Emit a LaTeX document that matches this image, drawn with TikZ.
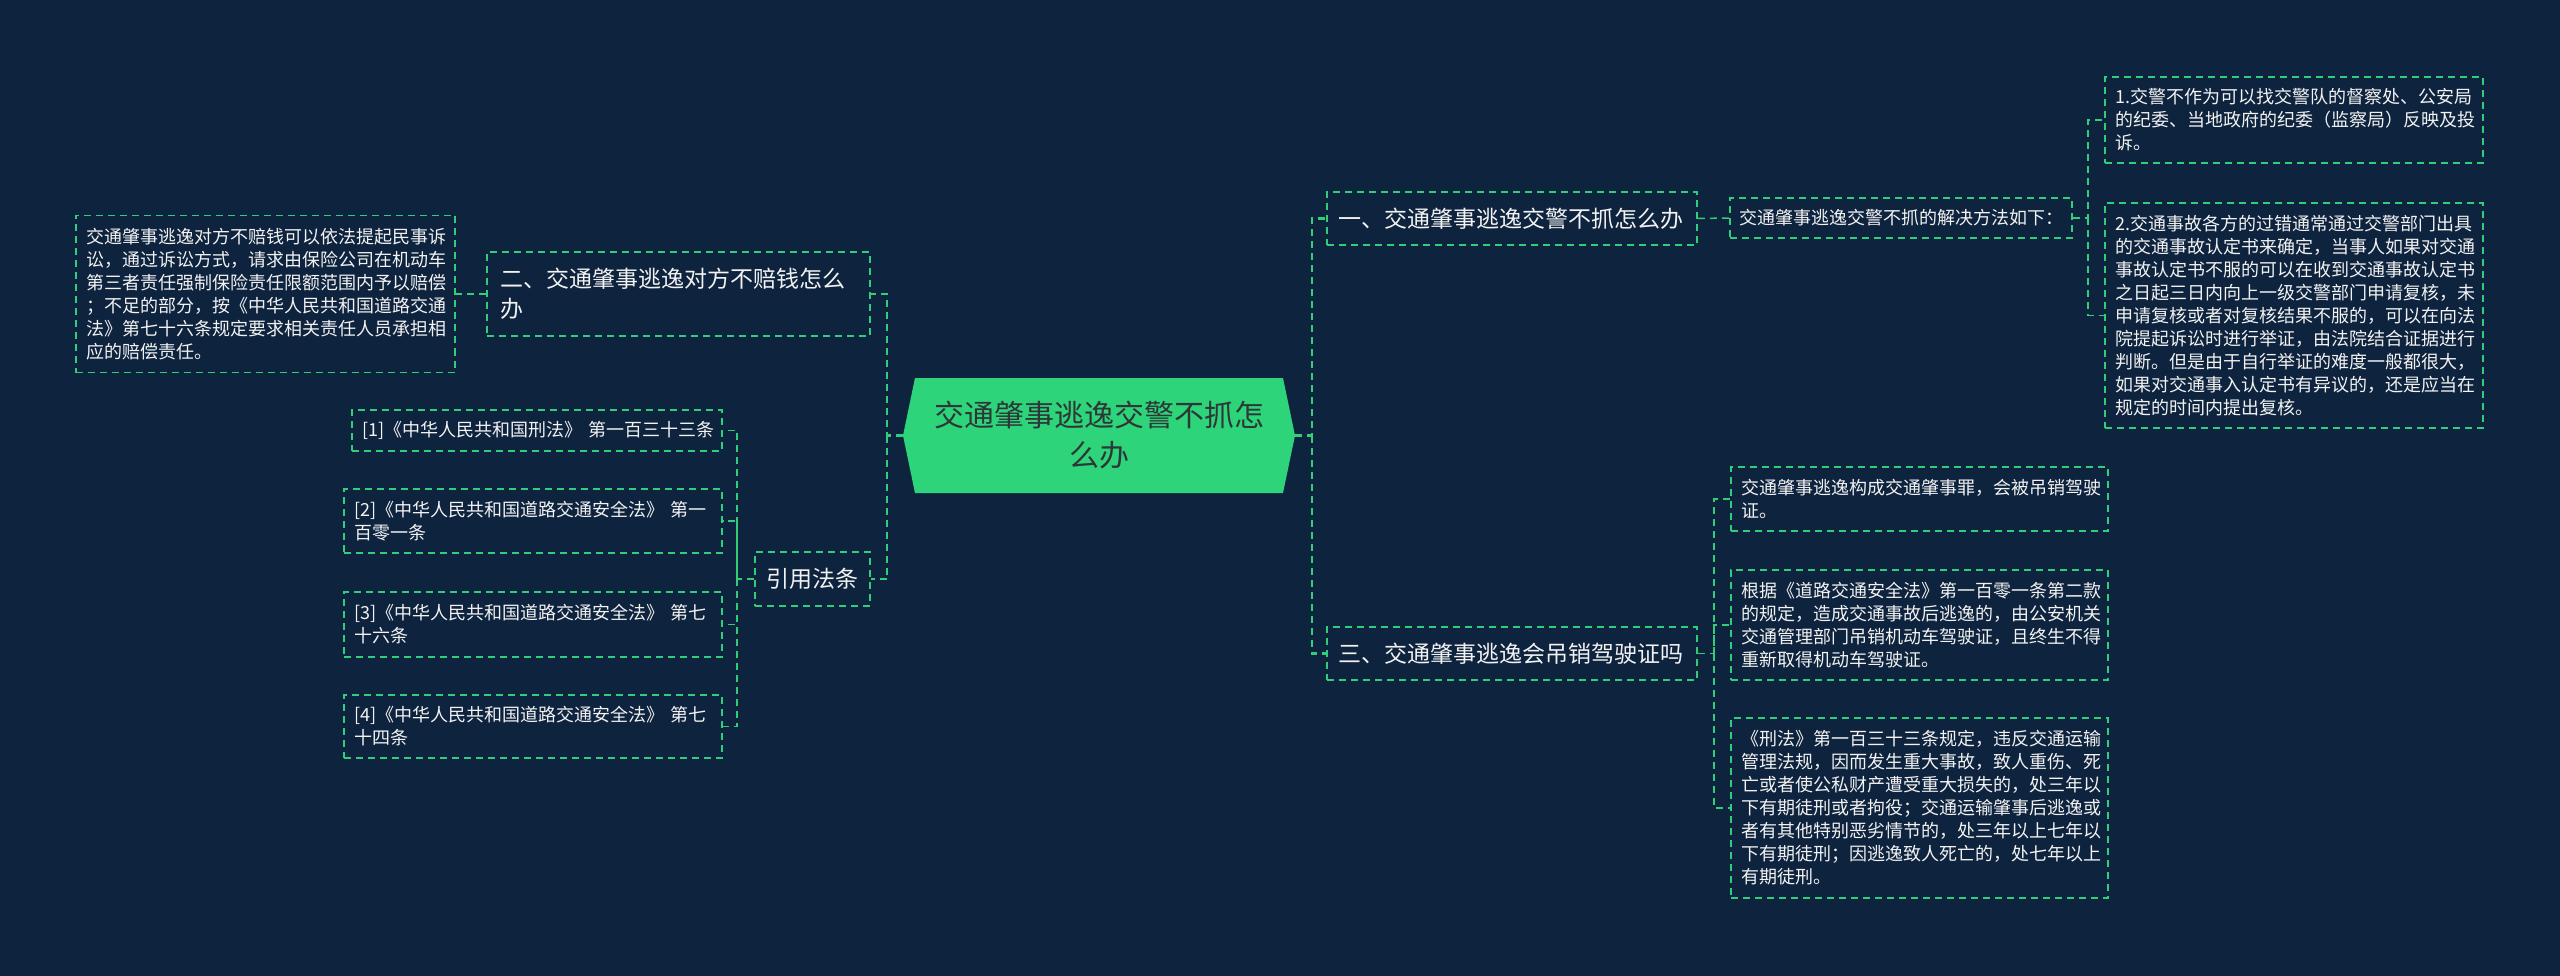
\documentclass[tikz,border=0pt]{standalone}
\usepackage{fontspec}
\setmainfont{Noto Sans CJK SC}
\usetikzlibrary{calc}
\definecolor{bg}{RGB}{14,35,62}
\definecolor{ln}{RGB}{50,205,120}
\definecolor{rootfill}{RGB}{46,212,122}
\definecolor{txt}{RGB}{242,242,242}
\definecolor{roottxt}{RGB}{45,55,55}
\begin{document}
\begin{tikzpicture}[x=1pt,y=-1pt,
  box/.style={draw=ln, line width=1.5pt, dash pattern=on 7pt off 5pt, text=txt, inner sep=0pt, align=left},
  leaf/.style={box, font=\fontsize{18pt}{23pt}\selectfont},
  lvl/.style={box, font=\fontsize{23pt}{30pt}\selectfont},
  link/.style={draw=ln, line width=1.5pt, dash pattern=on 7pt off 5pt},
  trunk/.style={draw=ln, line width=2.5pt, dash pattern=on 7pt off 5pt},
]
\useasboundingbox (0,0) rectangle (2560,976);
\fill[bg] (0,0) rectangle (2560,976);

% bus coordinates
\coordinate (busL) at (887,0);
\coordinate (busR) at (1312,0);
\coordinate (busL2) at (737,0);
\coordinate (busR1a) at (2088,0);
\coordinate (busR2) at (1714,0);

% root
\coordinate (rootc) at (1099,435.5);
\fill[rootfill] ($(rootc)+(-196,0)$) -- ($(rootc)+(-184,-57.5)$) -- ($(rootc)+(184,-57.5)$) -- ($(rootc)+(196,0)$) -- ($(rootc)+(184,57.5)$) -- ($(rootc)+(-184,57.5)$) -- cycle;
\node[minimum width=392pt, minimum height=115pt, inner sep=0pt, align=center, text=roottxt, font=\fontsize{30pt}{40pt}\selectfont] (root) at (rootc) {交通肇事逃逸交警不抓怎\\么办};

% left side
\node[lvl, minimum width=383pt, minimum height=84pt, text width=357pt] (L1) at (678.5,294) {二、交通肇事逃逸对方不赔钱怎么\\办};
\node[leaf, minimum width=379pt, minimum height=157pt, text width=359pt] (L1a) at (265.5,294) {交通肇事逃逸对方不赔钱可以依法提起民事诉\\讼，通过诉讼方式，请求由保险公司在机动车\\第三者责任强制保险责任限额范围内予以赔偿\\；不足的部分，按《中华人民共和国道路交通\\法》第七十六条规定要求相关责任人员承担相\\应的赔偿责任。};
\node[lvl, minimum width=115pt, minimum height=54pt, align=center] (L2) at (812.5,579) {引用法条};
\node[leaf, minimum width=370pt, minimum height=41pt, text width=350pt] (C1) at (537,430.5) {\mbox{[1]《中华人民共和国刑法》 第一百三十三条}};
\node[leaf, minimum width=378pt, minimum height=64pt, text width=358pt] (C2) at (533,521) {[2]《中华人民共和国道路交通安全法》 第一\\百零一条};
\node[leaf, minimum width=378pt, minimum height=65pt, text width=358pt] (C3) at (533,624.5) {[3]《中华人民共和国道路交通安全法》 第七\\十六条};
\node[leaf, minimum width=378pt, minimum height=63pt, text width=358pt] (C4) at (533,726.5) {[4]《中华人民共和国道路交通安全法》 第七\\十四条};

% right side
\node[lvl, minimum width=370pt, minimum height=53pt, text width=348pt] (R1) at (1512,218.5) {一、交通肇事逃逸交警不抓怎么办};
\node[leaf, minimum width=342pt, minimum height=40pt, text width=324pt] (R1a) at (1901,218) {交通肇事逃逸交警不抓的解决方法如下：};
\node[leaf, minimum width=378pt, minimum height=86pt, text width=358pt] (R1a1) at (2294,120) {1.交警不作为可以找交警队的督察处、公安局\\的纪委、当地政府的纪委（监察局）反映及投\\诉。};
\node[leaf, minimum width=378pt, minimum height=225pt, text width=358pt] (R1a2) at (2294,315.5) {2.交通事故各方的过错通常通过交警部门出具\\的交通事故认定书来确定，当事人如果对交通\\事故认定书不服的可以在收到交通事故认定书\\之日起三日内向上一级交警部门申请复核，未\\申请复核或者对复核结果不服的，可以在向法\\院提起诉讼时进行举证，由法院结合证据进行\\判断。但是由于自行举证的难度一般都很大，\\如果对交通事入认定书有异议的，还是应当在\\规定的时间内提出复核。};
\node[lvl, minimum width=370pt, minimum height=53pt, text width=348pt] (R2) at (1512,653.5) {三、交通肇事逃逸会吊销驾驶证吗};
\node[leaf, minimum width=377pt, minimum height=64pt, text width=357pt] (R2a) at (1919.5,499) {交通肇事逃逸构成交通肇事罪，会被吊销驾驶\\证。};
\node[leaf, minimum width=377pt, minimum height=110pt, text width=357pt] (R2b) at (1919.5,625) {根据《道路交通安全法》第一百零一条第二款\\的规定，造成交通事故后逃逸的，由公安机关\\交通管理部门吊销机动车驾驶证，且终生不得\\重新取得机动车驾驶证。};
\node[leaf, minimum width=377pt, minimum height=180pt, text width=357pt] (R2c) at (1919.5,808) {《刑法》第一百三十三条规定，违反交通运输\\管理法规，因而发生重大事故，致人重伤、死\\亡或者使公私财产遭受重大损失的，处三年以\\下有期徒刑或者拘役；交通运输肇事后逃逸或\\者有其他特别恶劣情节的，处三年以上七年以\\下有期徒刑；因逃逸致人死亡的，处七年以上\\有期徒刑。};

% connectors
\draw[trunk] (root.west) -- (root.west -| busL) |- (L1.east);
\draw[trunk] (root.west -| busL) |- (L2.east);
\draw[trunk] (root.east) -- (root.east -| busR) |- (R1.west);
\draw[trunk] (root.east -| busR) |- (R2.west);

\draw[link] (L1.west) -- (L1a.east);
\draw[link] (L2.west) -- (L2.west -| busL2) |- (C1.east);
\draw[link] (L2.west -| busL2) |- (C2.east);
\draw[link] (L2.west -| busL2) |- (C3.east);
\draw[link] (L2.west -| busL2) |- (C4.east);

\draw[link] (R1.east) -- (R1a.west);
\draw[link] (R1a.east) -- (R1a.east -| busR1a) |- (R1a1.west);
\draw[link] (R1a.east -| busR1a) |- (R1a2.west);

\draw[link] (R2.east) -- (R2.east -| busR2) |- (R2a.west);
\draw[link] (R2.east -| busR2) |- (R2b.west);
\draw[link] (R2.east -| busR2) |- (R2c.west);
\end{tikzpicture}
\end{document}
